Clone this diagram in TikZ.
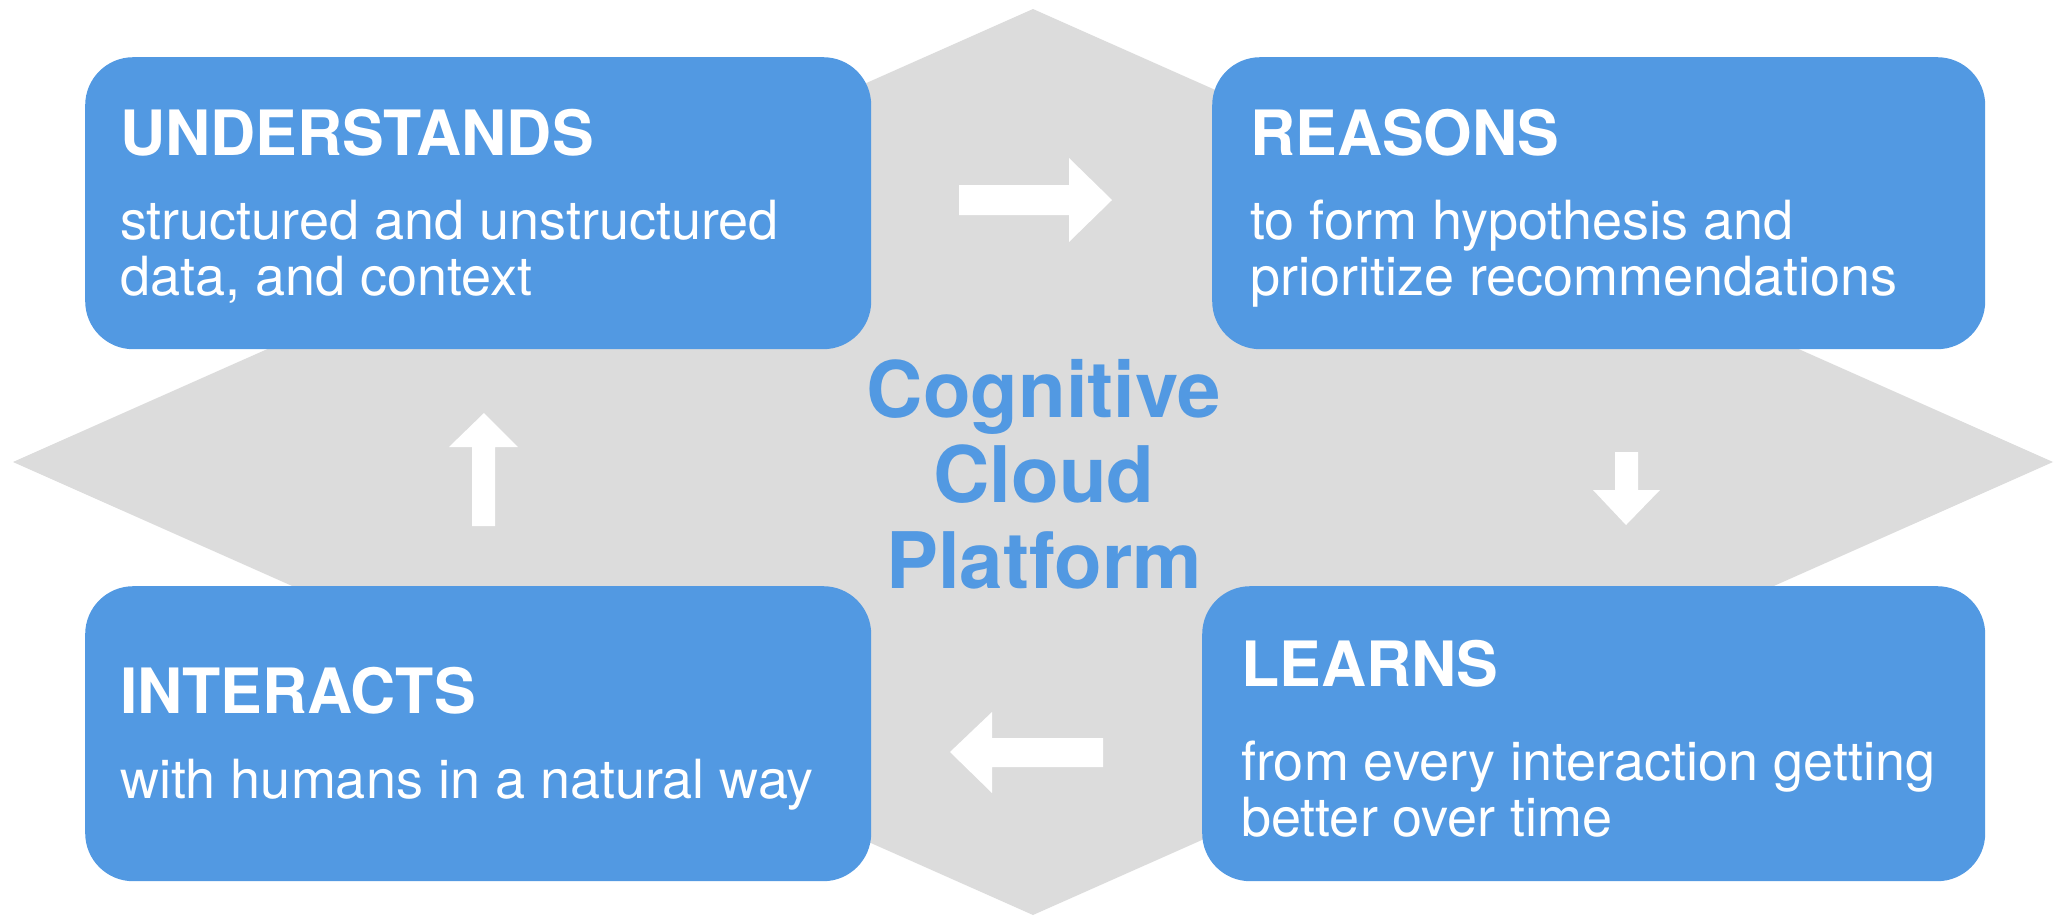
\documentclass[tikz,border=0pt]{standalone}
\usepackage{fontspec}
\setmainfont{TeX Gyre Heros}
\definecolor{cardblue}{RGB}{82,153,226}
\definecolor{backdrop}{RGB}{220,220,220}
\tikzset{
  card/.style={fill=cardblue, rounded corners=48pt, inner sep=0pt, anchor=north west},
  heading/.style={anchor=base west, inner sep=0pt, text=white,
    font=\fontsize{62.5}{70}\selectfont\bfseries},
  blurb/.style={anchor=base west, inner sep=0pt, text=white, align=left,
    font=\fontsize{54}{56}\selectfont},
  hub/.style={anchor=base, inner sep=0pt, text=cardblue, align=center,
    font=\fontsize{78}{85.5}\selectfont\bfseries},
  flow/.style={fill=white},
}
\begin{document}
\begin{tikzpicture}[x=1pt,y=-1pt]
  \useasboundingbox (0,0) rectangle (2056,916);
  % grey diamond behind everything
  \fill[backdrop] (1033,9) -- (2053,462) -- (1033,915) -- (13,462) -- cycle;

  % four blue cards
  \node (und) [card, minimum width=786pt, minimum height=292pt] at (85,57) {};
  \node (rea) [card, minimum width=773pt, minimum height=292pt] at (1212,57) {};
  \node (int) [card, minimum width=786pt, minimum height=295pt] at (85,586) {};
  \node (lea) [card, minimum width=783pt, minimum height=295pt] at (1202,586) {};

  % card texts (multi-line nodes are placed by the baseline of their last line)
  \node (undh) [heading] at (120,155) {UNDERSTANDS};
  \node (undb) [blurb] at (120,295) {structured and unstructured\\data, and context};
  \node (reah) [heading] at (1250,155) {REASONS};
  \node (reab) [blurb] at (1250,295) {to form hypothesis and\\prioritize recommendations};
  \node (inth) [heading] at (120,713) {INTERACTS};
  \node (intb) [blurb] at (120,798) {with humans in a natural way};
  \node (leah) [heading] at (1241,686) {LEARNS};
  \node (leab) [blurb] at (1241,836) {from every interaction getting\\better over time};

  % centre title
  \node (hub) [hub] at (1044,588) {Cognitive\\Cloud\\Platform};

  % white block arrows around the cycle
  \fill[flow] (959,185) -- (1069,185) -- (1069,158) -- (1112,200) -- (1069,242) -- (1069,215) -- (959,215) -- cycle;
  \fill[flow] (1615,452) -- (1638,452) -- (1638,490) -- (1660,490) -- (1626,525) -- (1593,490) -- (1615,490) -- cycle;
  \fill[flow] (1103,738) -- (992,738) -- (992,712) -- (950,752) -- (992,793) -- (992,767) -- (1103,767) -- cycle;
  \fill[flow] (472,526) -- (472,447) -- (449,447) -- (484,413) -- (518,447) -- (495,447) -- (495,526) -- cycle;
\end{tikzpicture}
\end{document}
